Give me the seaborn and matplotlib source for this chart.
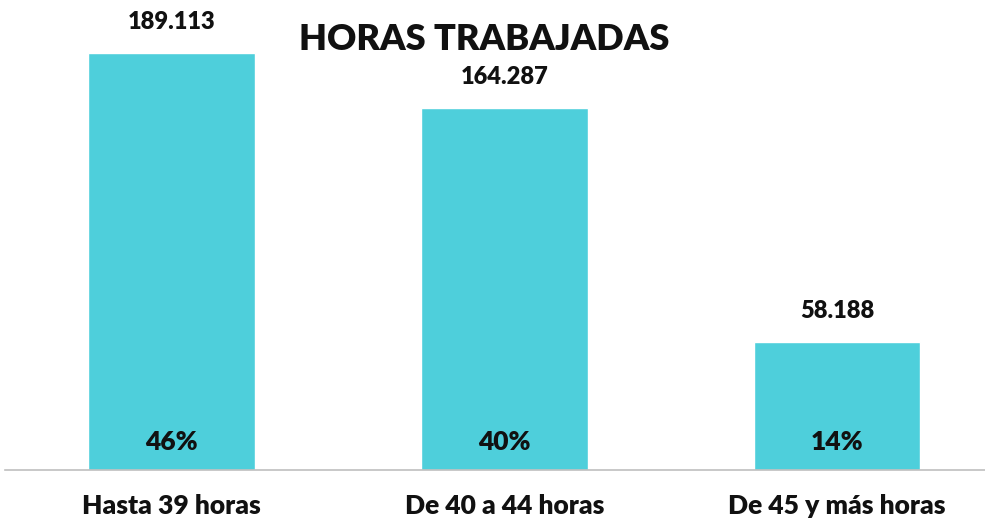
import pandas as pd
import matplotlib
matplotlib.use("Agg")
import matplotlib.pyplot as plt
import seaborn as sns

# datos
categorias = ["Hasta 39 horas", "De 40 a 44 horas", "De 45 y más horas"]
valores = [189113, 164287, 58188]
porcentajes = [46, 40, 14]
etiquetas_valor = ["189.113", "164.287", "58.188"]

df = pd.DataFrame({"categoria": categorias, "valor": valores})

sns.set_style("white")
plt.rcParams["font.family"] = ["Lato", "DejaVu Sans"]

fig = plt.figure(figsize=(9.85, 5.23), dpi=100)
ax = fig.add_axes([5 / 985, 53 / 523, 980 / 985, 470 / 523])

sns.barplot(data=df, x="categoria", y="valor", color="#4ECFDB",
            saturation=1, width=0.5, ax=ax)

ax.set_xlim(-0.5, 2.444)
ax.set_ylim(0, max(valores) * 470 / 417)

# etiquetas de valor y porcentaje
for i, (v, txt, p) in enumerate(zip(valores, etiquetas_valor, porcentajes)):
    ax.annotate(txt, (i, v), xytext=(0, 31), textcoords="offset pixels",
                ha="center", va="center", fontsize=17, fontweight="heavy",
                color="#111111")
    ax.annotate(f"{p}%", (i, 0), xytext=(0, 28), textcoords="offset pixels",
                ha="center", va="center", fontsize=19, fontweight="heavy",
                color="#111111")

ax.set_xlabel("")
ax.set_ylabel("")
ax.set_yticks([])
ax.tick_params(axis="x", length=0, pad=17, labelsize=19)
for lbl in ax.get_xticklabels():
    lbl.set_fontweight("heavy")
    lbl.set_color("#111111")

sns.despine(ax=ax, left=True, top=True, right=True)
ax.spines["bottom"].set_color("#BFBFBF")
ax.spines["bottom"].set_linewidth(1.2)

fig.text(484 / 985, 1 - 40 / 523, "HORAS TRABAJADAS", ha="center", va="center",
         fontsize=26, fontweight="heavy", color="#111111")

fig.savefig("out.png", dpi=100)
